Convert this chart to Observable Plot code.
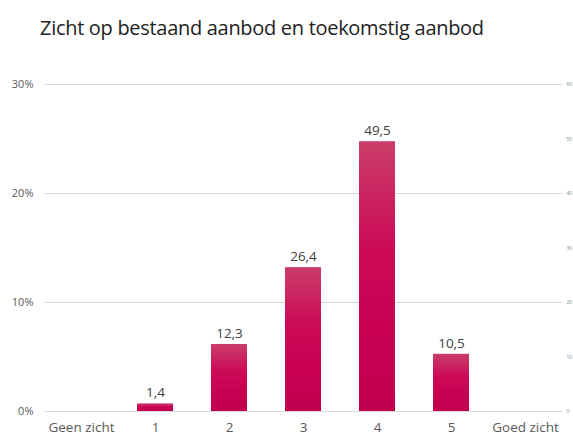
<!DOCTYPE html>
<html>
<head>
<meta charset="utf-8">
<script src="https://cdn.jsdelivr.net/npm/d3@7"></script>
<script src="https://cdn.jsdelivr.net/npm/@observablehq/plot@0.6"></script>
<style>
  body { margin: 0; background: #fff; font-family: "Open Sans", "Noto Sans", sans-serif; }
  #title { height: 60px; box-sizing: border-box; padding: 14px 0 0 40px; font-size: 20px; color: #222; letter-spacing: -0.3px; }
  svg { display: block; }
</style>
</head>
<body>
<div id="title">Zicht op bestaand aanbod en toekomstig aanbod</div>
<div id="chart"></div>
<script>
const categories = ["Geen zicht", "1", "2", "3", "4", "5", "Goed zicht"];
const values = [null, 1.4, 12.3, 26.4, 49.5, 10.5, null];
const leftTicks = [0, 20, 40, 60];
const leftTickLabels = ["0%", "10%", "20%", "30%"];
const rightTicks = [0, 10, 20, 30, 40, 50, 60];

const data = categories.map((c, i) => ({cat: c, value: values[i]}));
const bars = data.filter(d => d.value != null);
const fmt = v => v.toFixed(1).replace(".", ",");

const chart = Plot.plot({
  width: 573,
  height: 377,
  marginLeft: 44,
  marginRight: 11,
  marginTop: 24,
  marginBottom: 26,
  style: {fontFamily: "'Open Sans', 'Noto Sans', sans-serif", background: "#fff"},
  x: {domain: categories, paddingInner: 0.51, paddingOuter: 0.255, label: null},
  y: {domain: [0, 60], label: null},
  marks: [
    () => {
      const ns = "http://www.w3.org/2000/svg";
      const defs = document.createElementNS(ns, "defs");
      defs.innerHTML = `<linearGradient id="barGrad" x1="0" y1="0" x2="0" y2="1">
        <stop offset="0" stop-color="#c93d68"/>
        <stop offset="0.4" stop-color="#cc0a58"/>
        <stop offset="0.7" stop-color="#c90052"/>
        <stop offset="1" stop-color="#c0004e"/>
      </linearGradient>`;
      return defs;
    },
    Plot.ruleY(leftTicks, {stroke: "#d9d9d9", strokeWidth: 1}),
    Plot.barY(bars, {x: "cat", y: "value", fill: "url(#barGrad)"}),
    Plot.text(bars, {x: "cat", y: "value", text: d => fmt(d.value), dy: -11, fontSize: 13.5, fill: "#404040"}),
    Plot.axisX({tickSize: 0, tickPadding: 11, fontSize: 13.5, color: "#595959"}),
    Plot.axisY(leftTicks, {anchor: "left", tickSize: 0, tickPadding: 11, fontSize: 11, color: "#595959", tickFormat: (d, i) => leftTickLabels[leftTicks.indexOf(d)]}),
    Plot.axisY(rightTicks, {anchor: "right", tickSize: 0, tickPadding: 4, fontSize: 5, color: "#7f7f7f", textAnchor: "start"})
  ]
});
document.getElementById("chart").appendChild(chart);
</script>
</body>
</html>
